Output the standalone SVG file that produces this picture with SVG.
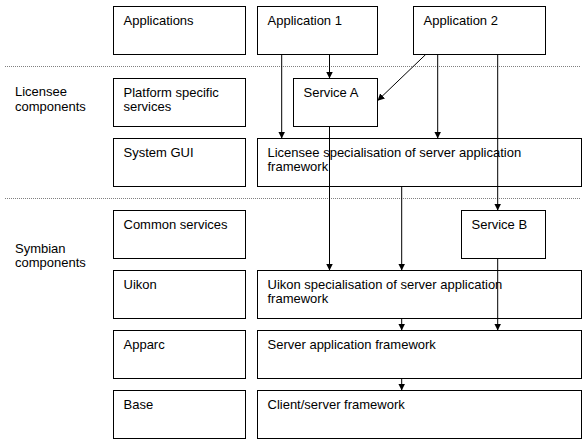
<svg xmlns="http://www.w3.org/2000/svg" width="587" height="445" viewBox="0 0 587 445">
<style>
.box{fill:#fff;stroke:#000;stroke-width:1}
.t{font-family:"Liberation Sans",Arial,sans-serif;font-size:13px;fill:#000}
.sep{stroke:#808080;stroke-width:1;stroke-dasharray:1,1;fill:none}
.c{stroke:#000;stroke-width:1;fill:none;marker-end:url(#ah)}
</style>
<defs>
<marker id="ah" markerUnits="userSpaceOnUse" markerWidth="7" markerHeight="7" refX="7" refY="3.5" orient="auto">
<path d="M0,0 L7,3.5 L0,7 z" fill="#000"/>
</marker>
</defs>
<rect width="587" height="445" fill="#fff"/>
<g id="separators">
<line class="sep" x1="5" y1="66.5" x2="581" y2="66.5"/>
<line class="sep" x1="5" y1="198.5" x2="581" y2="198.5"/>
</g>
<g id="layer-labels">
<text class="t" x="15" y="96">Licensee</text>
<text class="t" x="15" y="110.5">components</text>
<text class="t" x="15" y="252.5">Symbian</text>
<text class="t" x="15" y="267">components</text>
</g>
<g id="applications"><rect class="box" x="113.5" y="6.5" width="132" height="48"/><text class="t" x="123.5" y="24.5">Applications</text></g>
<g id="platform-specific"><rect class="box" x="113.5" y="78.5" width="132" height="48"/><text class="t" x="123.5" y="96.5">Platform specific</text><text class="t" x="123.5" y="111">services</text></g>
<g id="system-gui"><rect class="box" x="113.5" y="138.5" width="132" height="48"/><text class="t" x="123.5" y="156.5">System GUI</text></g>
<g id="common-services"><rect class="box" x="113.5" y="210.5" width="132" height="48"/><text class="t" x="123.5" y="228.5">Common services</text></g>
<g id="uikon"><rect class="box" x="113.5" y="270.5" width="132" height="48"/><text class="t" x="123.5" y="288.5">Uikon</text></g>
<g id="apparc"><rect class="box" x="113.5" y="330.5" width="132" height="48"/><text class="t" x="123.5" y="348.5">Apparc</text></g>
<g id="base"><rect class="box" x="113.5" y="390.5" width="132" height="48"/><text class="t" x="123.5" y="408.5">Base</text></g>
<g id="application1"><rect class="box" x="257.5" y="6.5" width="120" height="48"/><text class="t" x="267.5" y="24.5">Application 1</text></g>
<g id="application2"><rect class="box" x="413.5" y="6.5" width="132" height="48"/><text class="t" x="423.5" y="24.5">Application 2</text></g>
<g id="service-a"><rect class="box" x="293.5" y="78.5" width="84" height="48"/><text class="t" x="303.5" y="96.5">Service A</text></g>
<g id="licensee-spec"><rect class="box" x="257.5" y="138.5" width="324" height="48"/><text class="t" x="267.5" y="156.5">Licensee specialisation of server application</text><text class="t" x="267.5" y="171">framework</text></g>
<g id="service-b"><rect class="box" x="461.5" y="210.5" width="84" height="48"/><text class="t" x="471.5" y="228.5">Service B</text></g>
<g id="uikon-spec"><rect class="box" x="257.5" y="270.5" width="324" height="48"/><text class="t" x="267.5" y="288.5">Uikon specialisation of server application</text><text class="t" x="267.5" y="303">framework</text></g>
<g id="server-app-fw"><rect class="box" x="257.5" y="330.5" width="324" height="48"/><text class="t" x="267.5" y="348.5">Server application framework</text></g>
<g id="client-server-fw"><rect class="box" x="257.5" y="390.5" width="324" height="48"/><text class="t" x="267.5" y="408.5">Client/server framework</text></g>
<g id="connectors">
<line class="c" x1="281.7" y1="54.5" x2="281.7" y2="138.5"/>
<line class="c" x1="329.5" y1="54.5" x2="329.5" y2="78.5"/>
<line class="c" x1="425.7" y1="54.5" x2="377.5" y2="100.7"/>
<line class="c" x1="437.7" y1="54.5" x2="437.7" y2="138.5"/>
<line class="c" x1="497.7" y1="54.5" x2="497.7" y2="210.5"/>
<line class="c" x1="329.5" y1="126.5" x2="329.5" y2="270.5"/>
<line class="c" x1="401.7" y1="186.5" x2="401.7" y2="270.5"/>
<line class="c" x1="401.7" y1="318.5" x2="401.7" y2="330.5"/>
<line class="c" x1="497.7" y1="258.5" x2="497.7" y2="330.5"/>
<line class="c" x1="401.7" y1="378.5" x2="401.7" y2="390.5"/>
</g>
</svg>
